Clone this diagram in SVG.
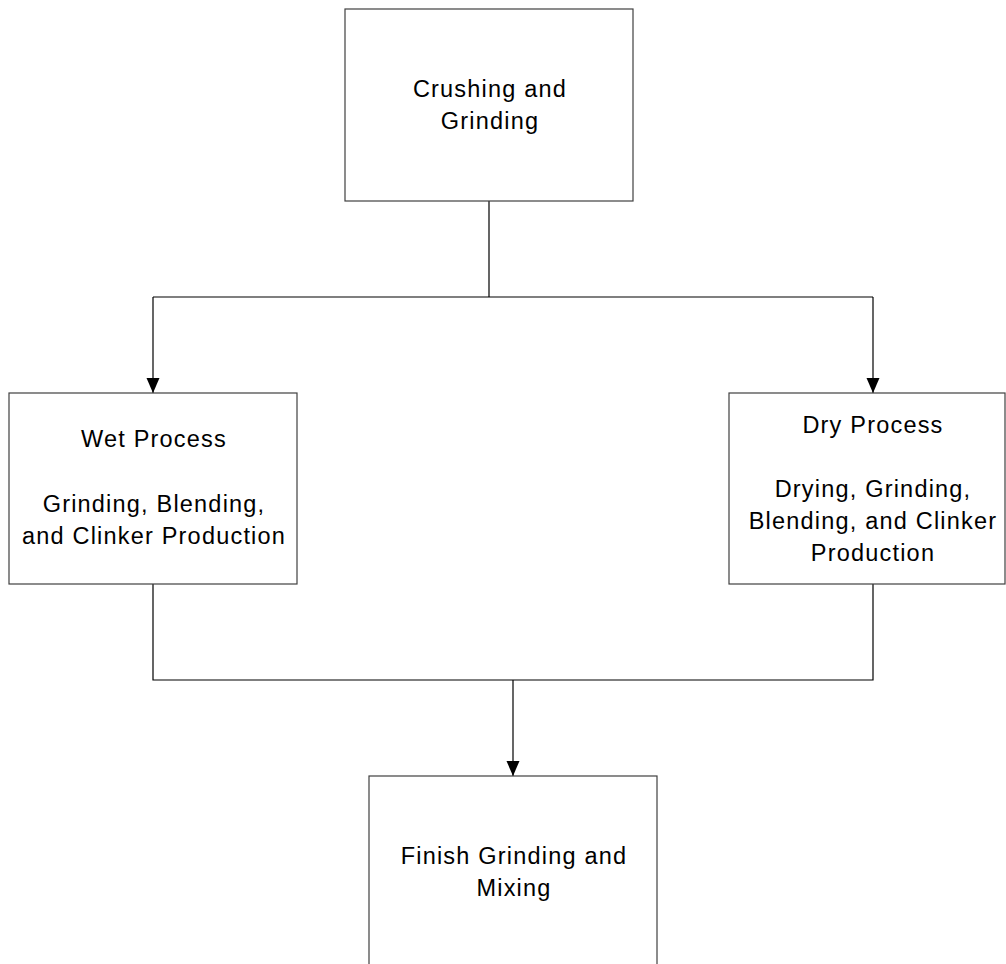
<svg xmlns="http://www.w3.org/2000/svg" width="1006" height="964" viewBox="0 0 1006 964">
<style>
.box{fill:#fff;stroke:#404040;stroke-width:1.2}
.lbl{font-family:"Liberation Sans",Arial,sans-serif;font-size:23.5px;letter-spacing:1.2px;fill:#000;text-anchor:middle}
.conn{fill:none;stroke:#000;stroke-width:1.2}
</style>
<defs>
<marker id="arr" markerWidth="16" markerHeight="14" refX="15" refY="7" orient="auto" markerUnits="userSpaceOnUse" viewBox="0 0 16 14">
<path d="M0,0.5 L15,7 L0,13.5 Z" fill="#000"/>
</marker>
</defs>
<rect width="1006" height="964" fill="#fff"/>
<g id="connectors">
<path class="conn" d="M489,201 V297 M153,297 H873"/>
<path class="conn" d="M153,297 V393" marker-end="url(#arr)"/>
<path class="conn" d="M873,297 V393" marker-end="url(#arr)"/>
<path class="conn" d="M153,584 V680 H873 V584"/>
<path class="conn" d="M513,680 V776" marker-end="url(#arr)"/>
</g>
<g id="crushing">
<rect class="box" x="345" y="9" width="288" height="192"/>
<text class="lbl" x="490" y="97">Crushing and</text>
<text class="lbl" x="490" y="129">Grinding</text>
</g>
<g id="wet">
<rect class="box" x="9" y="393" width="288" height="191"/>
<text class="lbl" x="154" y="447">Wet Process</text>
<text class="lbl" x="154" y="512">Grinding, Blending,</text>
<text class="lbl" x="154" y="544">and Clinker Production</text>
</g>
<g id="dry">
<rect class="box" x="729" y="393" width="276" height="191"/>
<text class="lbl" x="873" y="433">Dry Process</text>
<text class="lbl" x="873" y="497">Drying, Grinding,</text>
<text class="lbl" x="873" y="529">Blending, and Clinker</text>
<text class="lbl" x="873" y="561">Production</text>
</g>
<g id="finish">
<rect class="box" x="369" y="776" width="288" height="240"/>
<text class="lbl" x="514" y="864">Finish Grinding and</text>
<text class="lbl" x="514" y="896">Mixing</text>
</g>
</svg>
